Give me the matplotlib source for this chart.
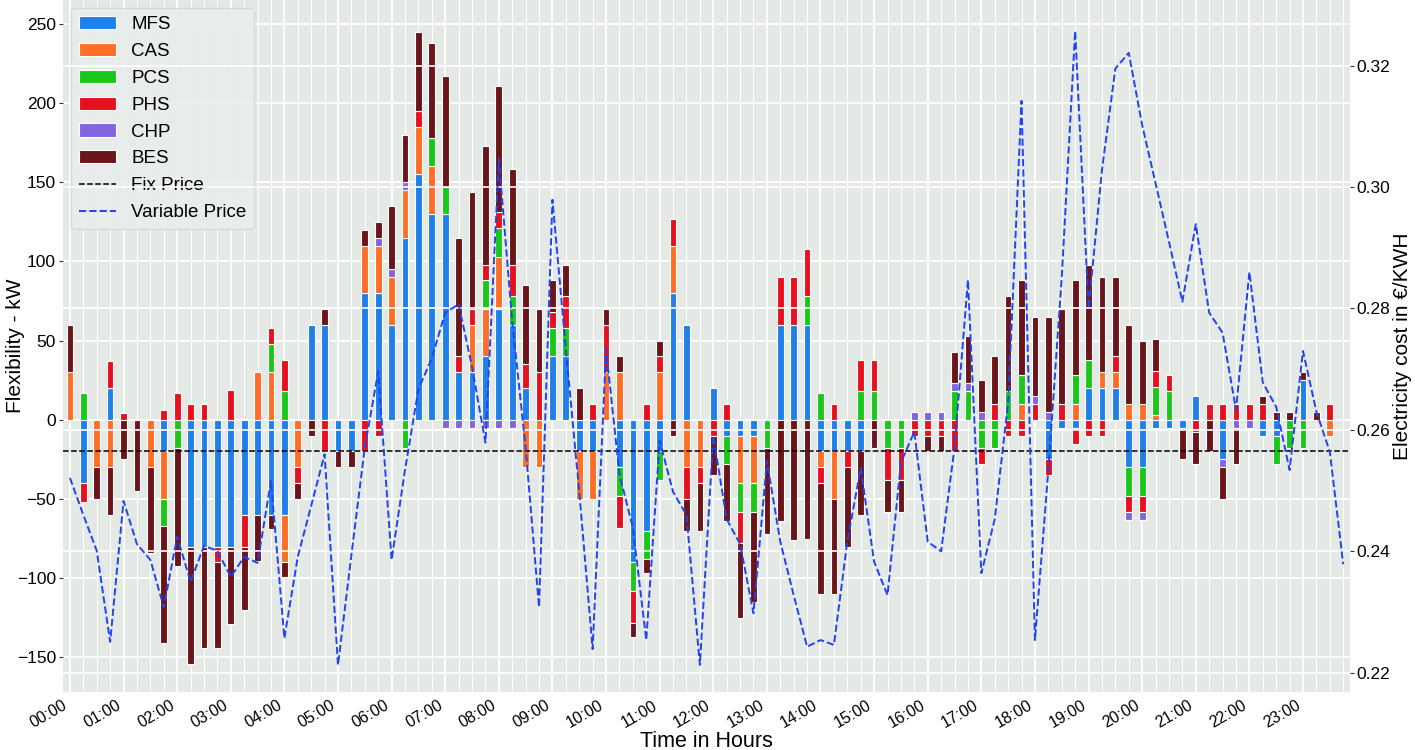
import matplotlib
matplotlib.use('Agg')
import matplotlib.pyplot as plt
import numpy as np

# 96 slots of 15 minutes, 4 per hour
hours = ['00:00', '01:00', '02:00', '03:00', '04:00', '05:00', '06:00', '07:00',
         '08:00', '09:00', '10:00', '11:00', '12:00', '13:00', '14:00', '15:00',
         '16:00', '17:00', '18:00', '19:00', '20:00', '21:00', '22:00', '23:00']

mfs = [0, -40, 0, 20,  0, 0, 0, -20,  0, -80, -80, -80,  -80, -60, -60, -60,
       -60, 0, 60, 60,  -20, -20, 80, 80,  60, 115, 155, 130,  130, 30, 30, 40,
       70, 60, 20, 0,  40, 40, -20, -20,  0, -30, -90, -70,  -20, 80, 60, 0,
       20, -10, -10, -10,  0, 60, 60, 60,  -20, -20, -20, -20,  0, 0, 0, 0,
       0, 0, 0, 0,  0, 0, 0, 0,  0, -25, -5, -5,  20, 20, 20, -30,
       -30, -5, -5, -5,  15, 0, -25, 0,  0, -10, -10, 0,  25, 0, 0, 0]

cas = [30, 0, -30, -30,  0, 0, -30, -30,  0, 0, 0, 0,  0, 0, 30, 30,
       -30, -30, 0, 0,  0, 0, 30, 30,  30, 30, 30, 30,  0, 0, 30, 30,
       33, 0, -30, -30,  0, 0, -30, -30,  30, 30, 0, 0,  30, 30, -30, -30,
       0, 0, -30, -30,  0, 0, 0, 0,  -10, -30, 0, 0,  0, 0, 0, 0,
       0, 0, 0, 0,  0, 0, 0, 10,  0, 0, 0, 10,  0, 10, 10, 10,
       10, 3, 0, 0,  0, 0, 0, 0,  0, 0, 0, 0,  0, 0, -10, 0]

pcs = [0, 17, 0, 0,  0, 0, 0, -17,  -18, 0, 0, 0,  0, 0, 0, 18,
       18, 0, 0, 0,  0, 0, 0, 0,  0, -18, 0, 18,  17, 0, 0, 18,
       18, 18, 0, 0,  18, 18, 0, 0,  0, -18, -18, -18,  -18, 0, 0, 0,
       0, -18, -18, -18,  -18, 0, 0, 18,  17, 0, 0, 18,  18, -18, -18, 0,
       0, 0, 18, 18,  -18, -18, 18, 18,  0, 0, 0, 18,  18, 0, 0, -18,
       -18, 18, 18, 0,  0, 0, 0, 0,  0, 0, -18, -18,  -18, 0, 0, 0]

phs = [0, -12, 0, 17,  4, 0, 0, 6,  17, 10, 10, -10,  19, -20, 0, 10,
       20, -10, 0, -20,  0, 0, -20, -10,  0, 0, 10, 0,  0, 10, 10, 10,
       10, 20, 15, 30,  10, 20, 0, 10,  30, -20, -20, 10,  10, 17, -20, -10,
       -10, 10, -20, 0,  0, 30, 30, 30,  -10, 10, -10, 20,  20, -20, -20, -10,
       -10, -10, -20, 0,  -10, 10, -10, -10,  10, -10, 10, -10,  -10, -10, 10, -10,
       -10, 10, 10, 0,  -8, 10, 10, 10,  10, 10, 0, 0,  0, 0, 10, 0]

chp = [0, 0, 0, 0,  0, 0, 0, 0,  0, 0, 0, 0,  0, 0, 0, 0,
       0, 0, 0, 0,  0, 0, 0, 5,  5, 5, 0, 0,  -5, -5, -5, -5,
       -5, -5, 0, 0,  0, 0, 0, 0,  0, 0, 0, 0,  0, 0, 0, 0,
       0, 0, 0, 0,  0, 0, 0, 0,  0, 0, 0, 0,  0, 0, 0, 5,
       5, 5, 5, 5,  5, 0, 0, 0,  5, 5, 0, 0,  0, 0, 0, -5,
       -5, 0, 0, 0,  0, 0, -5, -5,  -5, 0, 0, 0,  0, 0, 0, 0]

bes = [30, 0, -20, -30,  -25, -45, -54, -74,  -74, -74, -64, -54,  -49, -40, -29, -9,
       -9, -10, -10, 10,  -10, -10, 10, 10,  40, 30, 50, 60,  70, 75, 74, 75,
       80, 60, 50, 40,  20, 20, 20, 0,  10, 10, -9, -9,  10, -10, -20, -30,
       -25, -36, -47, -57,  -54, -64, -76, -75,  -70, -60, -50, -40,  -18, -20, -20, 0,
       -10, -10, 20, 30,  20, 30, 60, 60,  50, 60, 60, 60,  60, 60, 50, 50,
       40, 20, 0, -20,  -20, -20, -20, -23,  0, 5, 5, 5,  5, 5, 0, 0]

price_var = [0.2521, 0.2460, 0.2401, 0.2251, 0.2483, 0.2412, 0.2386, 0.2308,
             0.2424, 0.2350, 0.2409, 0.2401, 0.2358, 0.2391, 0.2381, 0.2516,
             0.2257, 0.2391, 0.2475, 0.2560, 0.2213, 0.2394, 0.2571, 0.2696,
             0.2386, 0.2534, 0.2667, 0.2718, 0.2793, 0.2807, 0.2704, 0.2579,
             0.3046, 0.2778, 0.2571, 0.2308, 0.2979, 0.2733, 0.2498, 0.2239,
             0.2733, 0.2527, 0.2439, 0.2254, 0.2582, 0.2498, 0.2460, 0.2213,
             0.2590, 0.2453, 0.2412, 0.2298, 0.2549, 0.2416, 0.2328, 0.2243,
             0.2254, 0.2246, 0.2416, 0.2537, 0.2383, 0.2328, 0.2546, 0.2597,
             0.2416, 0.2400, 0.2571, 0.2847, 0.2364, 0.2453, 0.2645, 0.3142,
             0.2254, 0.2534, 0.2851, 0.3257, 0.2800, 0.3028, 0.3195, 0.3221,
             0.3102, 0.3006, 0.2910, 0.2811, 0.2939, 0.2793, 0.2760, 0.2633,
             0.2860, 0.2678, 0.2638, 0.2534, 0.2730, 0.2630, 0.2564, 0.2379]

price_fix = 0.2565

names = ['MFS', 'CAS', 'PCS', 'PHS', 'CHP', 'BES']
colors = ['#1e80e8', '#ff6e27', '#19c819', '#e8101e', '#8264e0', '#6b1419']


def main():
    plt.rcParams['font.family'] = ['Liberation Sans', 'DejaVu Sans']

    fig, ax = plt.subplots(figsize=(14.15, 7.5), dpi=100)
    fig.subplots_adjust(left=0.0445, right=0.954, top=1.0, bottom=0.077)
    ax.set_facecolor('#e4e9e6')
    for s in ax.spines.values():
        s.set_visible(False)

    x = np.arange(len(mfs))
    pos = np.zeros(len(x))
    neg = np.zeros(len(x))
    handles = []
    for name, vals, c in zip(names, [mfs, cas, pcs, phs, chp, bes], colors):
        v = np.array(vals, dtype=float)
        bottom = np.where(v >= 0, pos, neg)
        nz = v != 0
        h = ax.bar(x[nz], v[nz], 0.5, bottom=bottom[nz], color=c,
                   edgecolor='white', linewidth=0.8, label=name, zorder=2)
        handles.append(h)
        pos += np.clip(v, 0, None)
        neg += np.clip(v, None, 0)

    ax.set_xlim(-0.52, 95.5)
    ax.set_ylim(-172, 265)
    ax.set_yticks(np.arange(-150, 251, 50))
    ax.set_xticks(x[::4])
    ax.set_xticklabels(hours, rotation=30, ha='right', fontsize=11.5)
    ax.set_xticks(x, minor=True)
    ax.tick_params(axis='x', which='both', length=0, pad=4)
    ax.tick_params(axis='y', labelsize=12.5, length=3, pad=2, color='#333333')
    ax.grid(True, which='major', color='white', linewidth=1.2)
    ax.grid(True, which='minor', axis='x', color='white', linewidth=0.7)
    ax.set_axisbelow(True)
    ax.set_xlabel('Time in Hours', fontsize=15.5, labelpad=0)
    ax.set_ylabel('Flexibility - kW', fontsize=15)
    ax.yaxis.set_label_coords(-0.0295, 0.5)

    ax2 = ax.twinx()
    for s in ax2.spines.values():
        s.set_visible(False)
    fix = ax2.axhline(price_fix, color='black', linestyle='--', linewidth=1.1,
                      label='Fix Price')
    var, = ax2.plot(x, price_var, color='#2143f2', linestyle='--', linewidth=1.4,
                    label='Variable Price')
    ax2.set_ylim(0.2168, 0.3308)
    ax2.set_yticks([0.22, 0.24, 0.26, 0.28, 0.30, 0.32])
    ax2.tick_params(axis='y', labelsize=12.5, length=3, pad=2, color='#333333')
    ax2.grid(True, axis='y', color='white', linewidth=1.2)
    ax2.set_ylabel('Electricity cost in €/KWH', fontsize=15)
    ax2.yaxis.set_label_coords(1.0335, 0.5)

    leg = ax.legend(handles + [fix, var], names + ['Fix Price', 'Variable Price'],
                    loc='upper left', fontsize=13.5, frameon=True,
                    facecolor='#e9edeb', edgecolor='#d3d9d6', framealpha=0.9,
                    labelspacing=0.52, handlelength=2.0, borderaxespad=0.45)
    leg.set_zorder(5)

    fig.savefig('out.png', dpi=100)


if __name__ == "__main__":
    main()
